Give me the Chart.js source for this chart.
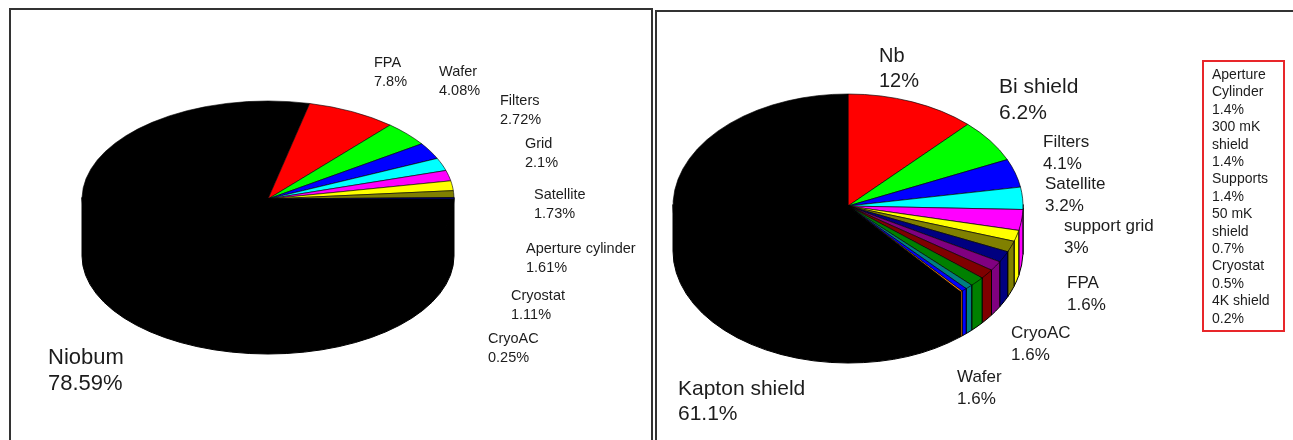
<!DOCTYPE html>
<html>
<head>
<meta charset="utf-8">
<script src="https://cdn.jsdelivr.net/npm/chart.js@4.4.1/dist/chart.umd.min.js"></script>
<style>
  html, body { margin: 0; padding: 0; background: #fff; }
  body { width: 1293px; height: 440px; position: relative; overflow: hidden; }
  .panel { position: absolute; border: 2px solid #333; box-sizing: border-box; }
  #panelA { left: 9px; top: 8px; width: 644px; height: 470px; }
  #panelB { left: 655px; top: 10px; width: 680px; height: 470px; }
  canvas { position: absolute; left: 0; top: 0; }
</style>
</head>
<body>
<div class="panel" id="panelA"></div>
<div class="panel" id="panelB"></div>
<canvas id="pieA" width="1293" height="440"></canvas>
<canvas id="pieB" width="1293" height="440"></canvas>
<script>
// first breakdown (percent)
const partsA = ["Niobum", "FPA", "Wafer", "Filters", "Grid", "Satellite", "Aperture cylinder", "Cryostat", "CryoAC"];
const sharesA = [78.59, 7.8, 4.08, 2.72, 2.1, 1.73, 1.61, 1.11, 0.25];
const colorsA = ["#000000", "#ff0000", "#00ff00", "#0000ff", "#00ffff", "#ff00ff", "#ffff00", "#808000", "#000080"];

// second breakdown (percent)
const partsB = ["Nb", "Bi shield", "Filters", "Satellite", "support grid", "FPA", "CryoAC", "Wafer",
  "Aperture Cylinder", "300 mK shield", "Supports", "50 mK shield", "Cryostat", "4K shield", "Kapton shield"];
const sharesB = [12, 6.2, 4.1, 3.2, 3, 1.6, 1.6, 1.6, 1.4, 1.4, 1.4, 0.7, 0.5, 0.2, 61.1];
const colorsB = ["#ff0000", "#00ff00", "#0000ff", "#00ffff", "#ff00ff", "#ffff00", "#808000", "#000080",
  "#800080", "#800000", "#008000", "#008080", "#0000ff", "#ff8000", "#000000"];

// label spots: [x, baseline, font size, line gap]
const spotsA = [[48, 364, 22, 26], [374, 67, 14.5, 19], [439, 76, 14.5, 19], [500, 105, 14.5, 19],
  [525, 148, 14.5, 19], [534, 199, 14.5, 19], [526, 253, 14.5, 19], [511, 300, 14.5, 19], [488, 343, 14.5, 19]];
const spotsB = [[879, 62, 20, 25], [999, 93, 21, 26], [1043, 147, 17, 21.5], [1045, 189, 17, 21.5],
  [1064, 231, 17, 21.5], [1067, 288, 17, 21.5], [1011, 338, 17, 21.5], [957, 382, 17, 21.5]];
const kaptonSpot = [678, 395, 21, 25];
const FONT = '"Liberation Sans", Arial, sans-serif';

// squashes the pie into an ellipse and adds the extruded rim on the front half
const tiltPlugin = {
  id: "tilt",
  beforeDatasetsDraw(chart, args, o) {
    const ctx = chart.ctx;
    const arcs = chart.getDatasetMeta(0).data;
    const colors = chart.data.datasets[0].backgroundColor;
    ctx.save();
    ctx.lineWidth = 1;
    ctx.strokeStyle = "#000";
    arcs.forEach((arc, i) => {
      const { startAngle, endAngle } = arc;
      for (const base of [-2 * Math.PI, 0, 2 * Math.PI]) {
        const a1 = Math.max(startAngle, base);
        const a2 = Math.min(endAngle, base + Math.PI);
        if (a2 <= a1) continue;
        // rim top sits 1px under the face edge so no seam shows
        ctx.beginPath();
        ctx.ellipse(o.cx, o.cy - 1.5, o.rx, o.ry, 0, a1, a2);
        ctx.lineTo(o.cx + o.rx * Math.cos(a2), o.cy + o.depth + o.ry * Math.sin(a2));
        ctx.ellipse(o.cx, o.cy + o.depth, o.rx, o.ry, 0, a2, a1, true);
        ctx.closePath();
        ctx.fillStyle = colors[i];
        ctx.fill();
        ctx.stroke();
      }
    });
    ctx.restore();
    const c0 = arcs[0];
    ctx.save();
    ctx.translate(o.cx, o.cy);
    ctx.scale(1, o.ry / o.rx);
    ctx.translate(-c0.x, -c0.y);
  },
  afterDatasetsDraw(chart) {
    chart.ctx.restore();
  }
};

function drawLabel(ctx, lines, spot) {
  const [x, y, size, gap] = spot;
  ctx.font = size + "px " + FONT;
  lines.forEach((t, k) => ctx.fillText(t, x, y + k * gap));
}

function wrap(ctx, text, maxW) {
  const words = text.split(" ");
  const out = [];
  let cur = "";
  words.forEach(w => {
    const test = cur ? cur + " " + w : w;
    if (cur && ctx.measureText(test).width > maxW) { out.push(cur); cur = w; } else { cur = test; }
  });
  out.push(cur);
  return out;
}

const labelsA = {
  id: "labelsA",
  afterDraw(chart) {
    const ctx = chart.ctx;
    ctx.save();
    ctx.fillStyle = "#1c1c1c";
    partsA.forEach((p, i) => drawLabel(ctx, [p, sharesA[i] + "%"], spotsA[i]));
    ctx.restore();
  }
};

const labelsB = {
  id: "labelsB",
  afterDraw(chart) {
    const ctx = chart.ctx;
    ctx.save();
    ctx.fillStyle = "#1c1c1c";
    spotsB.forEach((s, i) => drawLabel(ctx, [partsB[i], sharesB[i] + "%"], s));
    const last = partsB.length - 1;
    drawLabel(ctx, [partsB[last], sharesB[last] + "%"], kaptonSpot);

    // the small parts are listed in a framed box
    ctx.font = "14px " + FONT;
    let y = 79;
    for (let i = spotsB.length; i < last; i++) {
      const lines = wrap(ctx, partsB[i], 72).concat([sharesB[i] + "%"]);
      lines.forEach(t => { ctx.fillText(t, 1212, y); y += 17.4; });
    }
    ctx.strokeStyle = "#e8262a";
    ctx.lineWidth = 2;
    ctx.strokeRect(1203, 61, 81, 270);
    ctx.restore();
  }
};

function makePie(id, parts, shares, colors, rotation, tilt, labels) {
  return new Chart(document.getElementById(id), {
    type: "pie",
    data: {
      labels: parts,
      datasets: [{
        data: shares,
        backgroundColor: colors,
        borderColor: "#000",
        borderWidth: 0.8
      }]
    },
    options: {
      responsive: false,
      animation: false,
      events: [],
      rotation: rotation,
      radius: tilt.rx,
      plugins: {
        legend: { display: false },
        tooltip: { enabled: false },
        tilt: tilt
      }
    },
    plugins: [tiltPlugin, labels]
  });
}

makePie("pieA", partsA, sharesA, colorsA, 90, { cx: 268, cy: 199, rx: 186, ry: 98, depth: 57 }, labelsA);
makePie("pieB", partsB, sharesB, colorsB, 0, { cx: 848, cy: 206, rx: 175, ry: 112, depth: 45 }, labelsB);
</script>
</body>
</html>
